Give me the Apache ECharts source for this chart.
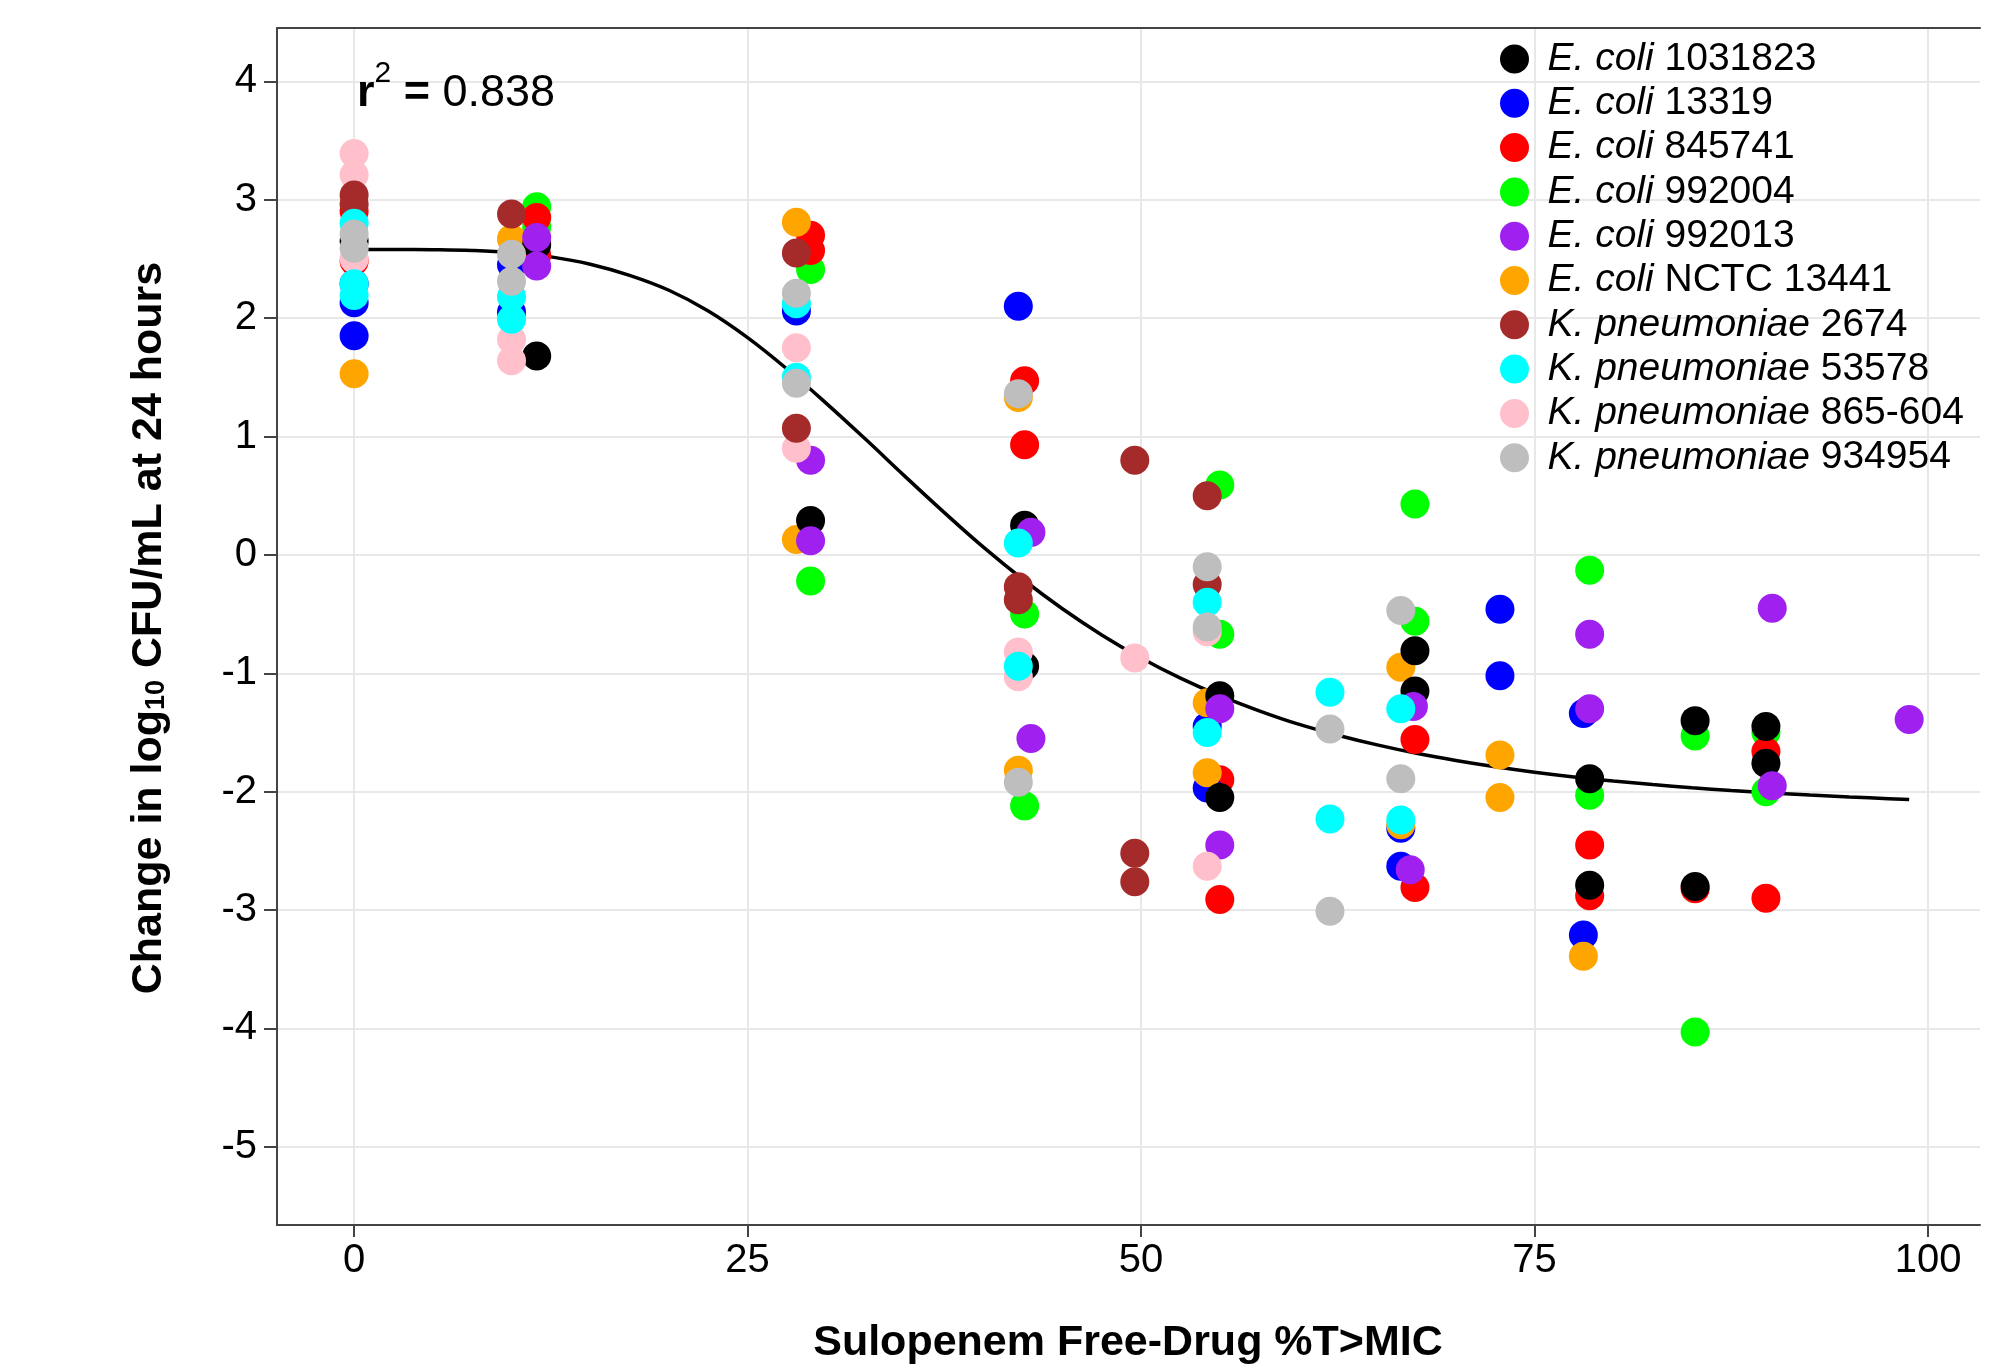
<!DOCTYPE html>
<html><head><meta charset="utf-8">
<script src="https://cdn.jsdelivr.net/npm/echarts@6/dist/echarts.min.js"></script>
<style>html,body{margin:0;padding:0;background:#fff}#c{width:2012px;height:1369px}</style>
</head><body><div id="c"></div>
<script>
// ---- data ----
const xTicks = [0, 25, 50, 75, 100];
const yTicks = [-5, -4, -3, -2, -1, 0, 1, 2, 3, 4];

const legendOrder = ['E. coli 1031823','E. coli 13319','E. coli 845741','E. coli 992004','E. coli 992013',
  'E. coli NCTC 13441','K. pneumoniae 2674','K. pneumoniae 53578','K. pneumoniae 865-604','K. pneumoniae 934954'];

const ecoli1031823 = [[0,2.65],[11.6,2.62],[11.6,1.68],[29.0,0.29],[42.6,0.25],[42.6,-0.94],[55.0,-1.19],[55.0,-2.05],[67.4,-0.81],[67.4,-1.15],[78.5,-1.89],[78.5,-2.79],[85.2,-1.40],[85.2,-2.80],[89.7,-1.45],[89.7,-1.76]];
const ecoli13319 = [[0,2.29],[0,2.13],[0,1.85],[10,2.45],[10,2.05],[28.1,2.06],[42.2,2.10],[54.2,-1.45],[54.2,-1.97],[66.5,-2.31],[66.5,-2.63],[72.8,-0.46],[72.8,-1.02],[78.1,-1.34],[78.1,-3.21]];
const ecoli845741 = [[0,2.90],[0,2.48],[11.6,2.85],[11.6,2.53],[29.0,2.70],[29.0,2.57],[42.6,1.47],[42.6,0.93],[55.0,-1.90],[55.0,-2.91],[67.4,-1.56],[67.4,-2.81],[78.5,-2.45],[78.5,-2.88],[85.2,-2.82],[89.7,-1.66],[89.7,-2.90]];
const ecoli992004 = [[11.6,2.94],[11.6,2.77],[29.0,2.41],[29.0,-0.22],[42.6,-0.50],[42.6,-2.12],[55.0,0.59],[55.0,-0.67],[67.4,0.43],[67.4,-0.56],[78.5,-0.13],[78.5,-2.03],[85.2,-1.53],[85.2,-4.03],[89.7,-1.50],[89.7,-2.00]];
const ecoli992013 = [[11.6,2.68],[11.6,2.44],[29.0,0.80],[29.0,0.12],[43.0,0.19],[43.0,-1.55],[55.0,-1.30],[55.0,-2.45],[67.3,-1.28],[67.1,-2.66],[78.5,-0.67],[78.5,-1.30],[90.1,-0.45],[90.1,-1.95],[98.8,-1.39]];
const ecoliNCTC13441 = [[0,1.53],[10,2.67],[28.1,2.81],[28.1,0.13],[42.2,1.33],[42.2,-1.82],[54.2,-1.25],[54.2,-1.84],[66.5,-0.95],[66.5,-2.28],[72.8,-1.69],[72.8,-2.05],[78.1,-3.39]];
const kpn2674 = [[0,3.04],[0,2.96],[10,2.88],[28.1,2.55],[28.1,1.07],[42.2,-0.27],[42.2,-0.38],[49.6,0.80],[49.6,-2.52],[49.6,-2.76],[54.2,0.50],[54.2,-0.25]];
const kpn53578 = [[0,2.80],[0,2.29],[0,2.19],[10,2.18],[10,1.99],[28.1,2.12],[28.1,1.50],[42.2,0.10],[42.2,-0.94],[54.2,-0.40],[54.2,-1.50],[62.0,-1.16],[62.0,-2.23],[66.5,-1.30],[66.5,-2.24]];
const kpn865604 = [[0,3.39],[0,3.21],[0,2.50],[10,1.82],[10,1.64],[28.1,1.75],[28.1,0.90],[42.2,-0.82],[42.2,-1.03],[49.6,-0.87],[54.2,-0.65],[54.2,-2.63]];
const kpn934954 = [[0,2.71],[0,2.59],[10,2.54],[10,2.31],[28.1,2.21],[28.1,1.45],[42.2,1.36],[42.2,-1.92],[54.2,-0.10],[54.2,-0.61],[62.0,-1.47],[62.0,-3.01],[66.5,-0.47],[66.5,-1.89]];

// fitted curve
const curveX = [0, 2.5, 5, 7.5, 10, 12.5, 15, 17.5, 20, 22.5, 25, 27.5, 30, 32.5, 35, 37.5, 40, 42.5, 45, 47.5, 50,
  52.5, 55, 57.5, 60, 62.5, 65, 67.5, 70, 72.5, 75, 77.5, 80, 82.5, 85, 87.5, 90, 92.5, 95, 97.5, 98.8];
const curveY = [2.58, 2.58, 2.578, 2.571, 2.553, 2.517, 2.455, 2.361, 2.235, 2.06, 1.835, 1.57, 1.28, 0.976, 0.663, 0.357, 0.063, -0.208, -0.455, -0.676, -0.871,
  -1.041, -1.189, -1.317, -1.43, -1.523, -1.605, -1.676, -1.737, -1.79, -1.836, -1.876, -1.91, -1.94, -1.967, -1.99, -2.011, -2.029, -2.045, -2.059, -2.066];

// ---- drawing ----
const FONT = 'Liberation Sans, Arial, sans-serif';
const drawOrder = [
  ['E. coli 992004', ecoli992004, '#00FF00'],
  ['E. coli 845741', ecoli845741, '#FF0000'],
  ['E. coli 13319', ecoli13319, '#0000FF'],
  ['E. coli NCTC 13441', ecoliNCTC13441, '#FFA500'],
  ['E. coli 1031823', ecoli1031823, '#000000'],
  ['E. coli 992013', ecoli992013, '#A020F0'],
  ['K. pneumoniae 865-604', kpn865604, '#FFC0CB'],
  ['K. pneumoniae 2674', kpn2674, '#A52A2A'],
  ['K. pneumoniae 53578', kpn53578, '#00FFFF'],
  ['K. pneumoniae 934954', kpn934954, '#BEBEBE']
];

const axisLineStyle = {color: '#444', width: 2};
const chart = echarts.init(document.getElementById('c'), null, {renderer: 'canvas'});

const series = [{
  type: 'line', name: 'fit', data: curveX.map((x, i) => [x, curveY[i]]),
  smooth: 0.4, showSymbol: false, symbol: 'none', silent: true,
  lineStyle: {color: '#000', width: 3.5}, z: 1
}];
drawOrder.forEach(([name, data, color]) => {
  series.push({
    type: 'scatter', name: name, data: data, symbol: 'circle', symbolSize: 29,
    itemStyle: {color: color, opacity: 1}, z: 3, emphasis: {disabled: true}
  });
});

chart.setOption({
  animation: false,
  backgroundColor: '#fff',
  grid: {left: 277, top: 28, width: 1703, height: 1197},
  xAxis: [{
    type: 'value', min: -4.9, max: 103.3,
    axisLine: {show: true, onZero: false, lineStyle: axisLineStyle},
    axisTick: {show: true, length: 12, lineStyle: axisLineStyle, customValues: xTicks},
    axisLabel: {customValues: xTicks, fontSize: 40, lineHeight: 40, color: '#000', fontFamily: FONT, margin: 16},
    splitLine: {show: true, lineStyle: {color: '#e8e8e8', width: 2}}
  }, {
    type: 'value', position: 'top', min: -4.9, max: 103.3,
    axisLine: {show: true, onZero: false, lineStyle: axisLineStyle},
    axisTick: {show: false}, axisLabel: {show: false}, splitLine: {show: false}
  }],
  yAxis: {
    type: 'value', min: -5.66, max: 4.45,
    axisLine: {show: true, onZero: false, lineStyle: axisLineStyle},
    axisTick: {show: true, length: 13, lineStyle: axisLineStyle, customValues: yTicks},
    axisLabel: {customValues: yTicks, fontSize: 40, color: '#000', fontFamily: FONT, margin: 20},
    splitLine: {show: true, lineStyle: {color: '#e8e8e8', width: 2}}
  },
  legend: {
    orient: 'vertical', left: 1495, top: 34.5, itemWidth: 56, itemHeight: 29, itemGap: 5.3,
    icon: 'circle', data: legendOrder, selectedMode: false, z: 10,
    formatter: function (name) {
      const parts = name.split(' ');
      return '{i|' + parts.slice(0, 2).join(' ') + '} ' + parts.slice(2).join(' ');
    },
    textStyle: {fontSize: 39, lineHeight: 39, color: '#000', fontFamily: FONT,
      rich: {i: {fontSize: 39, lineHeight: 39, fontStyle: 'italic', color: '#000', fontFamily: FONT}}}
  },
  graphic: [
    {type: 'text', x: 357, y: 58.5, z: 100, silent: true, style: {
      text: '{r|r}{s|2}{e| = }{n|0.838}', align: 'left', verticalAlign: 'top',
      rich: {
        r: {fontSize: 45, lineHeight: 70, fontWeight: 'bold', fontFamily: FONT, fill: '#000'},
        s: {fontSize: 30, lineHeight: 30, verticalAlign: 'top', fontFamily: FONT, fill: '#000'},
        e: {fontSize: 45, lineHeight: 70, fontWeight: 'bold', fontFamily: FONT, fill: '#000'},
        n: {fontSize: 45, lineHeight: 70, fontFamily: FONT, fill: '#000'}
      }}},
    {type: 'text', x: 149, y: 628, rotation: Math.PI / 2, z: 100, silent: true, style: {
      text: '{m|Change in log}{b|10}{m| CFU/mL at 24 hours}', align: 'center', verticalAlign: 'middle',
      rich: {
        m: {fontSize: 43, lineHeight: 43, fontWeight: 'bold', fontFamily: FONT, fill: '#000'},
        b: {fontSize: 27, lineHeight: 17, verticalAlign: 'bottom', fontWeight: 'bold', fontFamily: FONT, fill: '#000'}
      }}},
    {type: 'text', x: 1128, y: 1343, z: 100, silent: true, style: {
      text: 'Sulopenem Free-Drug %T>MIC', align: 'center', verticalAlign: 'middle',
      fontSize: 43, fontWeight: 'bold', fontFamily: FONT, fill: '#000'}}
  ],
  series: series
});
</script></body></html>
